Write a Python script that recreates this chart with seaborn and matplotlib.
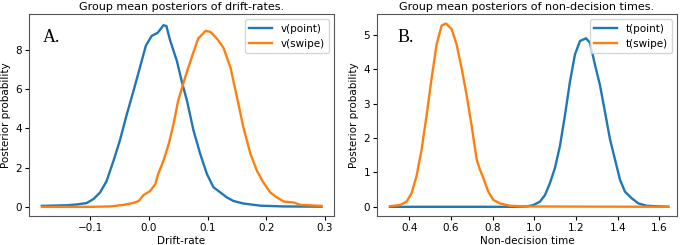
import matplotlib
matplotlib.use("Agg")
import matplotlib.pyplot as plt
import pandas as pd
import seaborn as sns

# Panel A: drift-rate posteriors
v_point_x = [-0.182, -0.14, -0.123, -0.106, -0.094, -0.083, -0.072, -0.06, -0.049, -0.0375,
             -0.026, -0.015, -0.005, 0.005, 0.015, 0.025, 0.03, 0.036, 0.048, 0.056, 0.065,
             0.076, 0.0875, 0.099, 0.11, 0.122, 0.133, 0.144, 0.161, 0.19, 0.23, 0.294]
v_point_y = [0.05, 0.08, 0.12, 0.19, 0.4, 0.73, 1.3, 2.35, 3.4, 4.7,
             5.9, 7.1, 8.2, 8.7, 8.85, 9.24, 9.2, 8.5, 7.4, 6.4, 5.4,
             3.9, 2.7, 1.67, 1.0, 0.73, 0.48, 0.3, 0.17, 0.06, 0.02, 0.01]
v_swipe_x = [-0.182, -0.1, -0.066, -0.043, -0.026, -0.017, -0.009, 0.002, 0.011, 0.016,
             0.025, 0.034, 0.042, 0.05, 0.062, 0.073, 0.084, 0.0966, 0.105, 0.116, 0.127,
             0.139, 0.15, 0.161, 0.173, 0.184, 0.195, 0.207, 0.218, 0.23, 0.247, 0.258,
             0.28, 0.294]
v_swipe_y = [0.0, 0.0, 0.02, 0.1, 0.2, 0.3, 0.6, 0.8, 1.15, 1.67,
             2.35, 3.2, 4.2, 5.4, 6.6, 7.6, 8.56, 8.95, 8.9, 8.56, 8.1,
             7.1, 5.6, 4.05, 2.7, 1.84, 1.24, 0.73, 0.48, 0.27, 0.22, 0.1,
             0.07, 0.05]

# Panel B: non-decision time posteriors
t_point_x = [0.307, 0.9, 0.963, 0.995, 1.027, 1.051, 1.075, 1.099, 1.123, 1.147, 1.171,
             1.195, 1.219, 1.248, 1.267, 1.291, 1.315, 1.339, 1.363, 1.387, 1.411,
             1.435, 1.467, 1.499, 1.539, 1.643]
t_point_y = [0.0, 0.0, 0.01, 0.05, 0.15, 0.34, 0.69, 1.13, 1.77, 2.66, 3.64,
             4.43, 4.82, 4.9, 4.77, 4.13, 3.54, 2.76, 1.97, 1.38, 0.79,
             0.44, 0.25, 0.1, 0.03, 0.0]
t_swipe_x = [0.307, 0.355, 0.387, 0.411, 0.435, 0.459, 0.483, 0.507, 0.531, 0.555, 0.576,
             0.603, 0.627, 0.651, 0.675, 0.699, 0.723, 0.739, 0.755, 0.779, 0.803,
             0.835, 0.883, 0.963, 1.643]
t_swipe_y = [0.02, 0.05, 0.15, 0.4, 0.9, 1.67, 2.66, 3.74, 4.72, 5.27, 5.33,
             5.17, 4.72, 4.03, 3.25, 2.36, 1.38, 1.08, 0.84, 0.44, 0.2,
             0.1, 0.03, 0.01, 0.0]

blue = "#1f77b4"
orange = "#ff7f0e"

fig = plt.figure(figsize=(6.85, 2.45), dpi=100)
ax1 = fig.add_axes([0.0423, 0.118, 0.445, 0.824])
ax2 = fig.add_axes([0.5504, 0.118, 0.438, 0.824])

# panel A
sns.lineplot(ax=ax1, x=v_point_x, y=v_point_y, color=blue, lw=1.7, label="v(point)")
sns.lineplot(ax=ax1, x=v_swipe_x, y=v_swipe_y, color=orange, lw=1.7, label="v(swipe)")
ax1.set_xlim(-0.204, 0.315)
ax1.set_ylim(-0.47, 9.8)
ax1.set_xticks([-0.1, 0.0, 0.1, 0.2, 0.3])
ax1.set_yticks([0, 2, 4, 6, 8])
ax1.set_title("Group mean posteriors of drift-rates.", fontsize=8, pad=3)
ax1.set_xlabel("Drift-rate", fontsize=7.5, labelpad=2)
ax1.set_ylabel("Posterior probability", fontsize=7.5, labelpad=3)
ax1.text(0.046, 0.86, "A.", transform=ax1.transAxes, family="Liberation Serif", fontsize=13)

# panel B
sns.lineplot(ax=ax2, x=t_point_x, y=t_point_y, color=blue, lw=1.7, label="t(point)")
sns.lineplot(ax=ax2, x=t_swipe_x, y=t_swipe_y, color=orange, lw=1.7, label="t(swipe)")
ax2.set_xlim(0.245, 1.685)
ax2.set_ylim(-0.27, 5.6)
ax2.set_xticks([0.4, 0.6, 0.8, 1.0, 1.2, 1.4, 1.6])
ax2.set_yticks([0, 1, 2, 3, 4, 5])
ax2.set_title("Group mean posteriors of non-decision times.", fontsize=8, pad=3)
ax2.set_xlabel("Non-decision time", fontsize=7.5, labelpad=2)
ax2.set_ylabel("Posterior probability", fontsize=7.5, labelpad=3)
ax2.text(0.067, 0.86, "B.", transform=ax2.transAxes, family="Liberation Serif", fontsize=13)

for ax in (ax1, ax2):
    ax.tick_params(labelsize=7.5, length=3, pad=2)
    ax.legend(loc="upper right", fontsize=7.5, handlelength=2.2)
    for s in ax.spines.values():
        s.set_color("#555555")

fig.savefig("out.png", dpi=100)
